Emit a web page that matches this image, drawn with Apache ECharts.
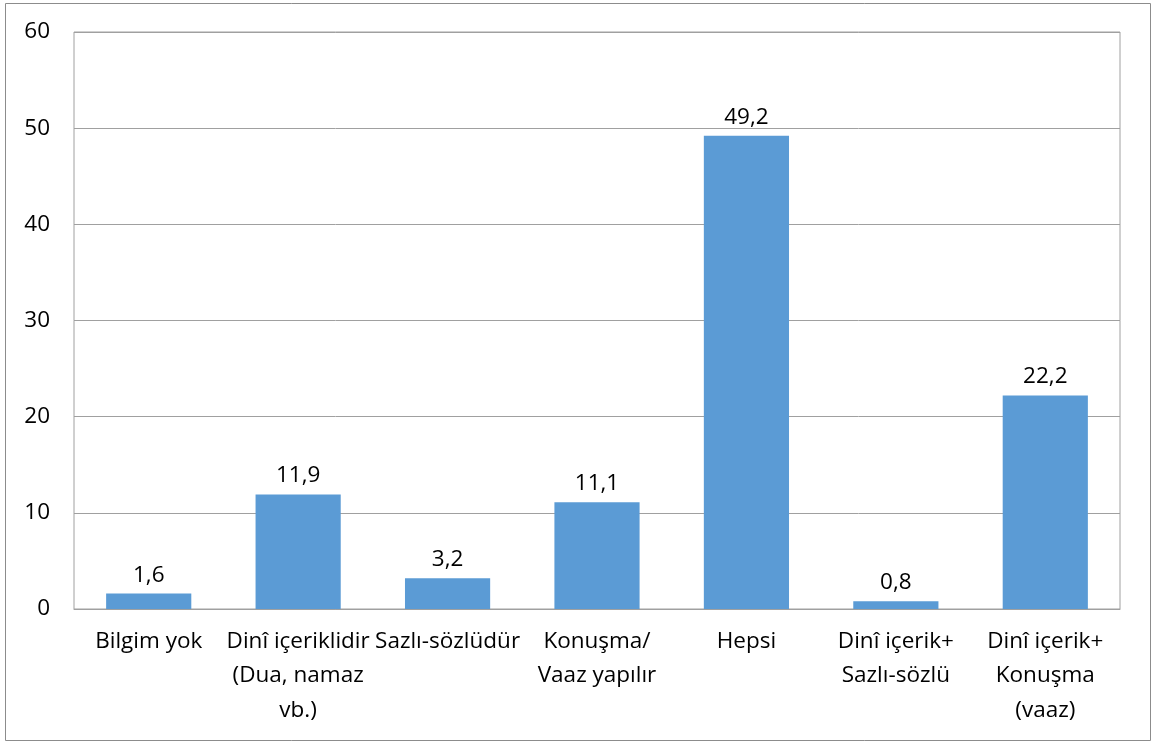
<!DOCTYPE html>
<html>
<head>
<meta charset="utf-8">
<script src="https://cdn.jsdelivr.net/npm/echarts@6/dist/echarts.min.js"></script>
<style>
html,body{margin:0;padding:0;background:#fff;}
#c{width:1152px;height:742px;}
</style>
</head>
<body>
<div id="c"></div>
<script>
const categories = [
  "Bilgim yok",
  "Dinî içeriklidir\n(Dua, namaz\nvb.)",
  "Sazlı-sözlüdür",
  "Konuşma/\nVaaz yapılır",
  "Hepsi",
  "Dinî içerik+\nSazlı-sözlü",
  "Dinî içerik+\nKonuşma\n(vaaz)"
];
const values = [1.6, 11.9, 3.2, 11.1, 49.2, 0.8, 22.2];
const yTicks = [0, 10, 20, 30, 40, 50, 60];

const FONT = "Open Sans";
const FS = 22.5;
const chart = echarts.init(document.getElementById('c'));
chart.setOption({
  animation: false,
  backgroundColor: '#fff',
  textStyle: {fontFamily: FONT},
  graphic: [{
    type: 'rect',
    shape: {x: 5.5, y: 3.5, width: 1145, height: 737},
    style: {fill: 'none', stroke: '#8c8c8c', lineWidth: 1},
    silent: true
  }],
  grid: {left: 74, right: 32, top: 32, bottom: 133, show: true, borderColor: '#a0a0a0', borderWidth: 1, backgroundColor: 'transparent'},
  xAxis: {
    type: 'category',
    data: categories,
    axisLine: {show: true, lineStyle: {color: '#a0a0a0'}},
    axisTick: {show: false},
    axisLabel: {color: '#000', fontSize: FS, fontFamily: FONT, margin: 15, lineHeight: 34.5, interval: 0}
  },
  yAxis: {
    type: 'value',
    min: 0, max: 60, interval: 10,
    axisLine: {show: false},
    axisTick: {show: false},
    splitLine: {lineStyle: {color: '#a0a0a0'}},
    axisLabel: {color: '#000', fontSize: FS, fontFamily: FONT, margin: 24,
      formatter: v => yTicks.includes(v) ? String(v) : ''}
  },
  series: [{
    type: 'bar',
    data: values,
    barWidth: '57%',
    itemStyle: {color: '#5b9bd5'},
    label: {
      show: true, position: 'top', distance: 7,
      color: '#000', fontSize: FS, fontFamily: FONT,
      formatter: p => String(p.value).replace('.', ',')
    }
  }]
});
</script>
</body>
</html>
